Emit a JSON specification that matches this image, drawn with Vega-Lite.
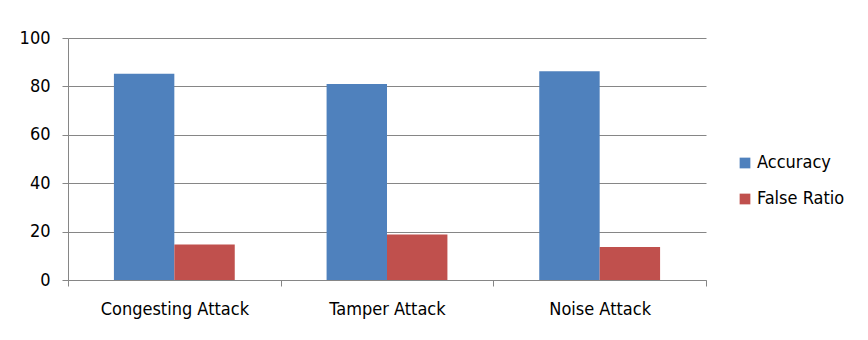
{
  "$schema": "https://vega.github.io/schema/vega-lite/v6.json",
  "autosize": {"type": "none"},
  "width": 638,
  "height": 242,
  "padding": {"left": 68, "top": 38, "right": 162, "bottom": 60},
  "background": "white",
  "config": {
    "font": "DejaVu Sans Condensed",
    "view": {"stroke": null}
  },
  "data": {
    "values": [
      {"attack": "Congesting Attack", "metric": "Accuracy", "value": 85.2},
      {"attack": "Congesting Attack", "metric": "False Ratio", "value": 14.7},
      {"attack": "Tamper Attack", "metric": "Accuracy", "value": 81.0},
      {"attack": "Tamper Attack", "metric": "False Ratio", "value": 18.8},
      {"attack": "Noise Attack", "metric": "Accuracy", "value": 86.3},
      {"attack": "Noise Attack", "metric": "False Ratio", "value": 13.6}
    ]
  },
  "mark": {"type": "bar"},
  "encoding": {
    "x": {
      "field": "attack",
      "type": "nominal",
      "sort": ["Congesting Attack", "Tamper Attack", "Noise Attack"],
      "scale": {"paddingInner": 0, "paddingOuter": 0},
      "axis": {
        "title": null,
        "labelAngle": 0,
        "tickBand": "extent",
        "tickSize": 6,
        "tickColor": "#868686",
        "domainColor": "#868686",
        "labelFontSize": 18,
        "labelColor": "#000000",
        "labelPadding": 14,
        "grid": false
      }
    },
    "xOffset": {
      "field": "metric",
      "type": "nominal",
      "scale": {"paddingInner": 0, "paddingOuter": 0.76}
    },
    "y": {
      "field": "value",
      "type": "quantitative",
      "scale": {"domain": [0, 100], "nice": false},
      "axis": {
        "title": null,
        "values": [0, 20, 40, 60, 80, 100],
        "tickSize": 6,
        "tickColor": "#868686",
        "domainColor": "#868686",
        "gridColor": "#868686",
        "labelFontSize": 18,
        "labelColor": "#000000",
        "labelPadding": 12
      }
    },
    "color": {
      "field": "metric",
      "type": "nominal",
      "scale": {"domain": ["Accuracy", "False Ratio"], "range": ["#4F81BD", "#C0504D"]},
      "legend": {
        "title": null,
        "orient": "none",
        "legendX": 668,
        "legendY": 116,
        "symbolType": "square",
        "symbolSize": 115,
        "symbolStrokeWidth": 0,
        "labelFontSize": 18,
        "labelColor": "#000000",
        "rowPadding": 18,
        "labelOffset": 3
      }
    }
  }
}
